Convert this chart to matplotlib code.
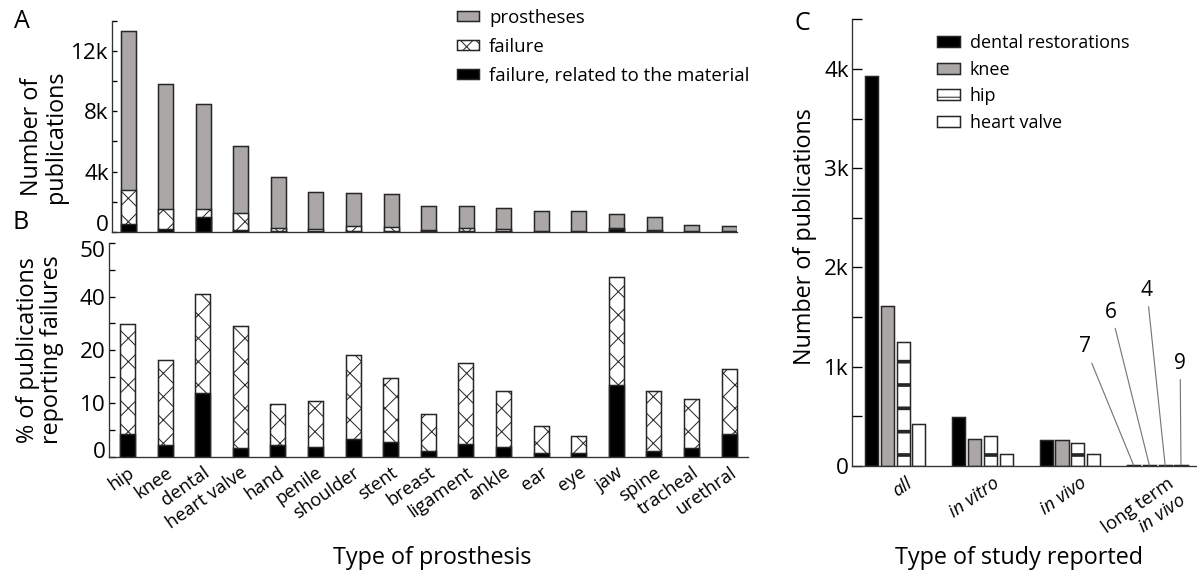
import numpy as np
import matplotlib
matplotlib.use("Agg")
import matplotlib.pyplot as plt
import matplotlib.transforms as mtransforms
from matplotlib.patches import Patch
from matplotlib.ticker import FixedLocator, FuncFormatter

# ---- data ----
prosthesis_types = ["hip", "knee", "dental", "heart valve", "hand", "penile", "shoulder",
                    "stent", "breast", "ligament", "ankle", "ear", "eye", "jaw", "spine",
                    "tracheal", "urethral"]
n_prostheses = [13300, 9800, 8470, 5690, 3650, 2650, 2570, 2500, 1740, 1740, 1560,
                1410, 1370, 1170, 970, 480, 370]
n_failure = [2780, 1540, 1540, 1280, 290, 210, 400, 310, 140, 260, 200, 80, 55, 250,
             130, 55, 60]
n_failure_material = [550, 220, 1010, 130, 70, 40, 70, 60, 40, 40, 50, 15, 10, 220,
                      60, 20, 20]

pct_failure = [29.6, 18.2, 40.5, 29.0, 9.8, 10.4, 19.0, 14.7, 8.0, 17.5, 12.4, 5.7,
               3.9, 43.6, 12.3, 10.9, 16.5]
pct_failure_material = [4.2, 2.2, 12.0, 1.7, 2.2, 1.8, 3.3, 2.8, 1.1, 2.4, 1.8, 0.6,
                        0.6, 13.4, 1.1, 1.7, 4.2]

study_types = ["all", "in vitro", "in vivo", "long term in vivo"]
dental_restorations = [3930, 494, 256, 7]
knee = [1608, 270, 259, 6]
hip = [1245, 297, 233, 4]
heart_valve = [417, 118, 118, 9]

# ---- style ----
W, H, DPI = 1197, 578, 140
S = 120 / DPI          # sizes below were tuned in pixels at 120 dpi
GRAY = "#aba7a7"
EDGE = "#262626"
LW = 0.9 * S
plt.rcParams["font.family"] = ["Open Sans", "DejaVu Sans"]
plt.rcParams["mathtext.fontset"] = "custom"
plt.rcParams["mathtext.rm"] = "Open Sans"
plt.rcParams["mathtext.it"] = "Open Sans:italic"
plt.rcParams["hatch.linewidth"] = 0.6 * S
plt.rcParams["axes.linewidth"] = 0.8 * S
plt.rcParams["axes.edgecolor"] = "#333333"

fig = plt.figure(figsize=(W / DPI, H / DPI), dpi=DPI)


def rect(l, t, r, b):
    return [l / W, 1 - b / H, (r - l) / W, (b - t) / H]


def kfmt(v, p):
    return "0" if v == 0 else "%dk" % round(v / 1000)


def nudge(label, dy_px, dx_px=0):
    off = mtransforms.ScaledTranslation(dx_px / DPI, dy_px / DPI, fig.dpi_scale_trans)
    label.set_transform(label.get_transform() + off)


axA = fig.add_axes(rect(112, 20.7, 736.7, 232))
axB = fig.add_axes(rect(109, 243.3, 748.3, 456.7))
axC = fig.add_axes(rect(852, 19.3, 1197, 465.8))

for ax in (axA, axB, axC):
    ax.spines["top"].set_visible(False)
    ax.spines["right"].set_visible(False)

x = np.arange(len(prosthesis_types))
bw = 0.4

# ---- panel A ----
axA.bar(x, n_prostheses, width=bw, color=GRAY, edgecolor=EDGE, lw=LW)
axA.bar(x, n_failure, width=bw, color="white", edgecolor=EDGE, hatch="xx", lw=LW)
axA.bar(x, n_failure_material, width=bw, color="black", edgecolor=EDGE, lw=LW)
axA.set_xlim(-0.43, 16.2)
axA.set_ylim(0, 14000)
axA.set_xticks([])
axA.yaxis.set_major_locator(FixedLocator([0, 4000, 8000, 12000]))
axA.yaxis.set_minor_locator(FixedLocator([2000, 6000, 10000, 14000]))
axA.yaxis.set_major_formatter(FuncFormatter(kfmt))
axA.tick_params(axis="y", which="both", direction="in", length=3 * S, width=0.8 * S,
                labelsize=13.5 * S, pad=2 * S)
nudge(axA.get_yticklabels()[0], 9)

handlesA = [Patch(facecolor=GRAY, edgecolor=EDGE, lw=LW),
            Patch(facecolor="white", edgecolor=EDGE, hatch="xxx", lw=LW),
            Patch(facecolor="black", edgecolor=EDGE, lw=LW)]
fig.legend(handlesA, ["prostheses", "failure", "failure, related to the material"],
           loc="upper left", bbox_to_anchor=(457 / W, 1 - 9 / H), frameon=False,
           fontsize=11.2 * S, handlelength=1.18, handleheight=0.43, handletextpad=0.53,
           labelspacing=0.59, borderpad=0, borderaxespad=0)

# ---- panel B (axis labels are not evenly spaced in the original) ----
b_vals = [-100, 0, 10, 20, 40, 50, 150]
b_pos = [-125, 0, 12.5, 25, 37.5, 50, 175]


def fwd(v):
    return np.interp(v, b_vals, b_pos)


def inv(p):
    return np.interp(p, b_pos, b_vals)


axB.set_yscale("function", functions=(fwd, inv))
axB.bar(x, pct_failure, width=bw, color="white", edgecolor=EDGE, hatch="xx", lw=LW)
axB.bar(x, pct_failure_material, width=bw, color="black", edgecolor=EDGE, lw=LW)
axB.set_xlim(-0.49, 16.51)
axB.set_ylim(0, 50)
axB.yaxis.set_major_locator(FixedLocator([0, 10, 20, 40, 50]))
axB.yaxis.set_minor_locator(FixedLocator([5, 15, 30, 45]))
axB.yaxis.set_major_formatter(FuncFormatter(lambda v, p: "%d" % v))
axB.yaxis.set_minor_formatter(FuncFormatter(lambda v, p: ""))
axB.tick_params(axis="y", which="both", direction="in", length=3.5 * S, width=0.8 * S,
                labelsize=13.5 * S, pad=2 * S)
labsB = axB.get_yticklabels()
nudge(labsB[0], 7)
nudge(labsB[-1], -6)
axB.set_xticks(x)
axB.set_xticklabels(prosthesis_types, rotation=35, ha="right", rotation_mode="anchor",
                    fontsize=11 * S)
axB.tick_params(axis="x", length=0, pad=4 * S)

# ---- panel C ----
g = np.arange(len(study_types))
step, cw = 0.181, 0.15
series = [dental_restorations, knee, hip, heart_valve]
faces = ["black", GRAY, "white", "white"]
hatches = [None, None, "-", None]
names = ["dental restorations", "knee", "hip", "heart valve"]
for i, (vals, fc, ht) in enumerate(zip(series, faces, hatches)):
    bars = axC.bar(g + (i - 1.5) * step, vals, width=cw, color=fc, edgecolor=EDGE,
                   lw=LW, hatch=ht)
    if ht:
        for b in bars:
            if hasattr(b, "set_hatch_linewidth"):
                b.set_hatch_linewidth(2.2 * S)
axC.set_xlim(-0.495, 3.455)
axC.set_ylim(0, 4500)
axC.yaxis.set_major_locator(FixedLocator([0, 1000, 2000, 3000, 4000]))
axC.yaxis.set_minor_locator(FixedLocator([500, 1500, 2500, 3500, 4500]))
axC.yaxis.set_major_formatter(FuncFormatter(kfmt))
axC.tick_params(axis="y", which="both", direction="in", length=6 * S, width=0.8 * S,
                labelsize=13.5 * S, pad=2 * S)
axC.set_xticks(g)
axC.set_xticklabels(["all", "in vitro", "in vivo", "long term\n$\\mathit{in\\ vivo}$"],
                    rotation=35, ha="right", rotation_mode="anchor", fontsize=11 * S,
                    multialignment="right")
axC.tick_params(axis="x", length=0, pad=5 * S)
for i, lab in enumerate(axC.get_xticklabels()):
    if i < 3:
        lab.set_fontstyle("italic")
    nudge(lab, 0, 10)

# labels for the tiny long-term bars
ann_pos = [(2.174, 1198), (2.472, 1550), (2.881, 1769), (3.262, 1034)]
for i, (vals, (tx, ty)) in enumerate(zip(series, ann_pos)):
    axC.annotate(str(vals[3]), xy=(g[3] + (i - 1.5) * step, vals[3]), xytext=(tx, ty),
                 textcoords="data", ha="center", va="center", fontsize=12.5 * S,
                 arrowprops=dict(arrowstyle="-", color="#777777", lw=0.7 * S,
                                 shrinkA=1, shrinkB=0))

hatch_handle = Patch(facecolor="white", edgecolor=EDGE, hatch="---", lw=LW)
if hasattr(hatch_handle, "set_hatch_linewidth"):
    hatch_handle.set_hatch_linewidth(2.2 * S)
handlesC = [Patch(facecolor="black", edgecolor=EDGE, lw=LW),
            Patch(facecolor=GRAY, edgecolor=EDGE, lw=LW),
            hatch_handle,
            Patch(facecolor="white", edgecolor=EDGE, lw=LW)]
fig.legend(handlesC, names, loc="upper left", bbox_to_anchor=(937 / W, 1 - 34 / H),
           frameon=False, fontsize=10.8 * S, handlelength=1.28, handleheight=0.55,
           handletextpad=0.55, labelspacing=0.48, borderpad=0, borderaxespad=0)

# ---- texts ----
fig.text(22 / W, 1 - 22 / H, "A", fontsize=15 * S, ha="center", va="center")
fig.text(21 / W, 1 - 222 / H, "B", fontsize=15 * S, ha="center", va="center")
fig.text(802 / W, 1 - 23 / H, "C", fontsize=15 * S, ha="center", va="center")
fig.text(44 / W, 1 - 137 / H, "Number of\npublications", rotation=90, fontsize=14 * S,
         ha="center", va="center", linespacing=1.05)
fig.text(40 / W, 1 - 350 / H, "% of publications\nreporting failures", rotation=90,
         fontsize=14 * S, ha="center", va="center", linespacing=1.05)
fig.text(805 / W, 1 - 237 / H, "Number of publications", rotation=90, fontsize=14 * S,
         ha="center", va="center")
fig.text(432 / W, 1 - 558 / H, "Type of prosthesis", fontsize=14 * S, ha="center",
         va="center")
fig.text(1019 / W, 1 - 558 / H, "Type of study reported", fontsize=14 * S, ha="center",
         va="center")

fig.savefig("out.png", dpi=DPI)
